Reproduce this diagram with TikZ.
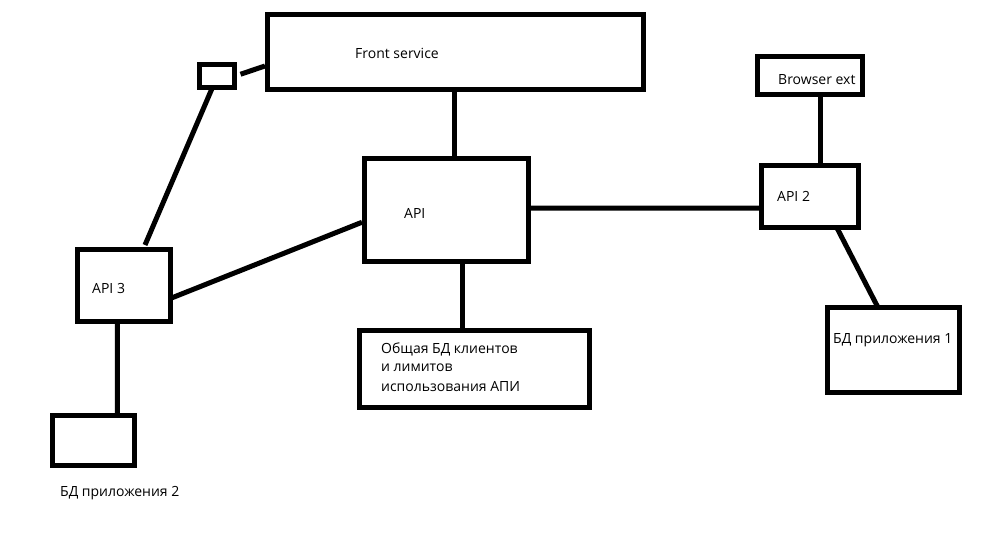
\documentclass[tikz,border=0pt]{standalone}
\usepackage{fontspec}
\setmainfont{Open Sans}
\usetikzlibrary{calc}
\begin{document}
\begin{tikzpicture}[x=1pt,y=-1pt,
  box/.style={draw,line width=5pt,inner sep=0pt,outer sep=0pt},
  conn/.style={line width=5pt},
  lbl/.style={anchor=west,inner sep=0pt,font=\fontsize{14}{16}\selectfont}]
\useasboundingbox[fill=white] (0,0) rectangle (1002,540);
% boxes
\node[box,minimum width=375.5pt,minimum height=75pt] (front) at (455.25,52.5) {};
\node[box,minimum width=35pt,minimum height=22.5pt] (small) at (217,76.25) {};
\node[box,minimum width=164pt,minimum height=102.5pt] (api) at (446,210.25) {};
\node[box,minimum width=96.5pt,minimum height=62pt] (api2) at (809.75,196.5) {};
\node[box,minimum width=104.5pt,minimum height=37.5pt] (browser) at (809.75,75.75) {};
\node[box,minimum width=93pt,minimum height=72pt] (api3) at (124,285.5) {};
\node[box,minimum width=81.5pt,minimum height=50.5pt] (db2) at (93.25,440.25) {};
\node[box,minimum width=230pt,minimum height=77.5pt] (common) at (474,368.75) {};
\node[box,minimum width=131.5pt,minimum height=84.5pt] (db1) at (893.25,350.25) {};
% labels
\node[lbl] (tfront) at (355,53) {Front service};
\node[lbl] (tapi) at (404,213) {API};
\node[lbl] (tapi2) at (777,196) {API 2};
\node[lbl] (tbrowser) at (778,80) {Browser ext};
\node[lbl] (tapi3) at (92,288) {API 3};
\node[lbl] (tc1) at (381,349) {Общая БД клиентов};
\node[lbl] (tc2) at (381,368) {и лимитов};
\node[lbl] (tc3) at (381,387) {использования АПИ};
\node[lbl] (tdb1) at (833,340) {БД приложения 1};
\node[lbl] (tdb2) at (60,493) {БД приложения 2};
% connectors
\draw[conn] ($(small.east)+(6,-2)$) -- ($(front.west)+(-2.5,13.5)$);
\draw[conn] ($(small.south)+(-5,1)$) -- ($(api3.north)+(21,-4.5)$);
\draw[conn] ($(front.south)+(-1.25,0)$) -- ($(api.north)+(8,2)$);
\draw[conn] ($(api.east)+(0,-2)$) -- ($(api2.west)+(0,11.5)$);
\draw[conn] ($(api.south)+(16,0)$) -- ($(common.north)+(-12,0)$);
\draw[conn] ($(api.west)+(-2,12)$) -- ($(api3.east)+(1,12.5)$);
\draw[conn] ($(browser.south)+(11,0)$) -- ($(api2.north)+(11,0)$);
\draw[conn] ($(api2.south)+(27,0)$) -- ($(db1.north)+(-15,0)$);
\draw[conn] ($(api3.south)+(-6.5,0)$) -- ($(db2.north)+(24,0)$);
\end{tikzpicture}
\end{document}
